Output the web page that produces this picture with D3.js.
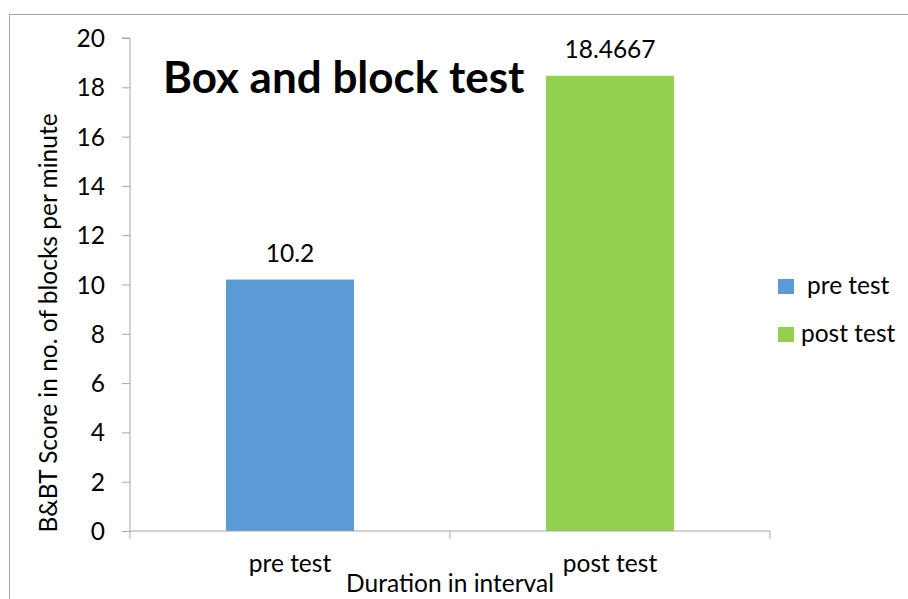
<!DOCTYPE html>
<html>
<head>
<meta charset="utf-8">
<script src="https://cdn.jsdelivr.net/npm/d3@7"></script>
<style>
  body { margin: 0; background: #fff; }
  text { font-family: Lato, "Open Sans", sans-serif; fill: #000; }
</style>
</head>
<body>
<div class="svgcont"></div>
<script>
// chart data
const categories = ["pre test", "post test"];
const scores = [10.2, 18.4667];
const scoreLabels = ["10.2", "18.4667"];
const colors = ["#5b9bd5", "#92d050"];
const yTicks = [0, 2, 4, 6, 8, 10, 12, 14, 16, 18, 20];

const w = 908;
const h = 599;
const fs = "24.5px";

let svg = d3.select(".svgcont").append("svg")
  .attr("width", w)
  .attr("height", h);

// chart frame
svg.append("rect")
  .attr("x", 9.5).attr("y", 14.5)
  .attr("width", 1000).attr("height", 1000)
  .attr("fill", "none")
  .attr("stroke", "#a6a6a6")
  .attr("stroke-width", 1);

const x0 = 130, x1 = 770, yTop = 38, yBot = 531;

const xScale = d3.scaleBand().domain(categories).range([x0, x1]).paddingInner(0.6).paddingOuter(0.3);
const yScale = d3.scaleLinear().domain([0, 20]).range([yBot, yTop]);

// y axis
const yAxis = d3.axisLeft(yScale).tickValues(yTicks).tickSize(8).tickPadding(17);
let gy = svg.append("g").attr("transform", `translate(${x0},0)`).call(yAxis);
gy.selectAll("path, line").attr("stroke", "#a6a6a6");
gy.selectAll("text").style("font-size", fs).attr("dy", "0.35em");
gy.select(".domain").attr("d", `M-8,${yTop}H0V${yBot}`);

// bars
svg.selectAll("rect.bar")
  .data(scores)
  .enter()
  .append("rect")
  .attr("class", "bar")
  .attr("x", (d, i) => xScale(categories[i]))
  .attr("y", d => yScale(d))
  .attr("width", xScale.bandwidth())
  .attr("height", d => yBot - yScale(d))
  .attr("fill", (d, i) => colors[i]);

// x axis
let gx = svg.append("g").attr("transform", `translate(0,${yBot})`);
gx.append("line").attr("x1", x0).attr("x2", x1).attr("y1", 0).attr("y2", 0).attr("stroke", "#a6a6a6");
const step = (x1 - x0) / categories.length;
[0, 1, 2].forEach(i => {
  gx.append("line")
    .attr("x1", x0 + i * step).attr("x2", x0 + i * step)
    .attr("y1", 0).attr("y2", 8)
    .attr("stroke", "#a6a6a6");
});
gx.selectAll("text.cat")
  .data(categories)
  .enter()
  .append("text")
  .attr("class", "cat")
  .attr("x", d => xScale(d) + xScale.bandwidth() / 2)
  .attr("y", 41)
  .attr("text-anchor", "middle")
  .style("font-size", fs)
  .text(d => d);

// data labels
svg.selectAll("text.lbl")
  .data(scores)
  .enter()
  .append("text")
  .attr("class", "lbl")
  .attr("x", (d, i) => xScale(categories[i]) + xScale.bandwidth() / 2)
  .attr("y", d => yScale(d) - 18)
  .attr("text-anchor", "middle")
  .style("font-size", fs)
  .text((d, i) => scoreLabels[i]);

// title
svg.append("text")
  .attr("x", 163).attr("y", 93)
  .style("font-size", "44px")
  .style("font-weight", "bold")
  .text("Box and block test");

// axis titles
svg.append("text")
  .attr("x", 450).attr("y", 592)
  .attr("text-anchor", "middle")
  .style("font-size", fs)
  .text("Duration in interval");

svg.append("text")
  .attr("transform", "translate(57,323) rotate(-90)")
  .attr("text-anchor", "middle")
  .style("font-size", fs)
  .text("B&BT Score in no. of blocks per minute");

// legend
const legY = [279, 327];
const legX = [807, 801];
categories.forEach((c, i) => {
  svg.append("rect")
    .attr("x", 778).attr("y", legY[i])
    .attr("width", 16).attr("height", 15)
    .attr("fill", colors[i]);
  svg.append("text")
    .attr("x", legX[i]).attr("y", legY[i] + 15)
    .style("font-size", fs)
    .text(c);
});
</script>
</body>
</html>
